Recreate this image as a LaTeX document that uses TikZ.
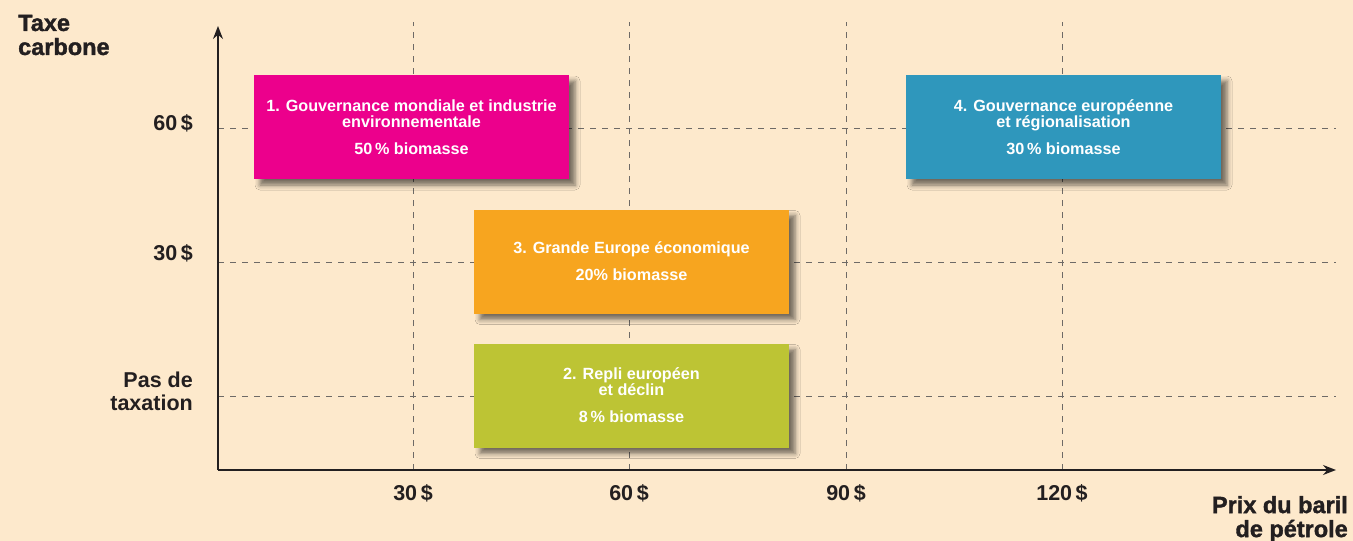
\documentclass[tikz,border=0pt]{standalone}
\usepackage{fontspec}
\setmainfont{Liberation Sans}
\newfontfamily\heavyfont[FakeBold=1.5]{Liberation Sans Bold}
\usetikzlibrary{arrows.meta,shadows.blur}

\definecolor{paper}{HTML}{FDE9CC}
\definecolor{inkdark}{HTML}{231F20}
\definecolor{gridgray}{HTML}{6E6A66}
\definecolor{scmagenta}{HTML}{EC008C}
\definecolor{scblue}{HTML}{2F97BC}
\definecolor{scorange}{HTML}{F7A51F}
\definecolor{scgreen}{HTML}{BDC434}

\tikzset{
  axis/.style={draw=inkdark, line width=1.4pt, -{Stealth[length=13pt,width=10pt]}},
  gridline/.style={draw=gridgray, line width=0.9pt, dash pattern=on 6pt off 6pt},
  scenario/.style={rectangle, minimum width=315pt, minimum height=104pt, inner sep=0pt,
    text=white, align=center, font=\bfseries\fontsize{16.2}{16}\selectfont,
    blur shadow={shadow xshift=6pt, shadow yshift=-6pt, shadow blur radius=5pt, shadow opacity=55}},
  ticklabel/.style={text=inkdark, font=\bfseries\fontsize{21.5}{23}\selectfont, inner sep=0pt},
  axistitle/.style={text=inkdark, font=\heavyfont\fontsize{23.5}{24}\selectfont, inner sep=0pt}
}

\begin{document}
\begin{tikzpicture}[x=1pt, y=-1pt]
  \fill[paper] (0,0) rectangle (1353,541);
  \useasboundingbox (0,0) rectangle (1353,541);

  % reference points of the axes
  \coordinate (o) at (218,470);
  \coordinate (ytip) at (218,26);
  \coordinate (xtip) at (1336,470);

  % vertical grid lines (oil price)
  \foreach \name/\x in {p30/413, p60/629, p90/846, p120/1062} {
    \coordinate (\name-b) at (\x,470);
    \coordinate (\name-t) at (\x,22);
    \draw[gridline] (\name-b) -- (\name-t);
  }
  % horizontal grid lines (carbon tax)
  \foreach \name/\y in {t60/128, t30/262, t0/396} {
    \coordinate (\name-l) at (218,\y);
    \coordinate (\name-r) at (1336,\y);
    \draw[gridline] (\name-l) -- (\name-r);
  }

  % axes
  \draw[axis] (o) -- (ytip);
  \draw[axis] (o) -- (xtip);

  % x tick labels
  \node[ticklabel] (lx30) at (413,493) {30\,\$};
  \node[ticklabel] (lx60) at (629,493) {60\,\$};
  \node[ticklabel] (lx90) at (846,493) {90\,\$};
  \node[ticklabel] (lx120) at (1062,493) {120\,\$};

  % y tick labels
  \node[ticklabel, anchor=east] (ly60) at (193,123) {60\,\$};
  \node[ticklabel, anchor=east] (ly30) at (193,253) {30\,\$};
  \node[ticklabel, anchor=east, align=right] (ly0) at (193,391) {Pas de\\taxation};

  % axis titles
  \node[axistitle, anchor=west, align=left] (ytitle) at (18,35) {Taxe\\carbone};
  \node[axistitle, anchor=east, align=right] (xtitle) at (1348,519) {Prix du baril\\de pétrole};

  % scenarios
  \node[scenario, fill=scmagenta] (s1) at (411.5,127)
    {1. Gouvernance mondiale et industrie\\environnementale\\[11pt]50\,\% biomasse};
  \node[scenario, fill=scblue] (s4) at (1063.5,127)
    {4. Gouvernance européenne\\et régionalisation\\[11pt]30\,\% biomasse};
  \node[scenario, fill=scorange] (s3) at (631.5,261.5)
    {3. Grande Europe économique\\[11pt]20\% biomasse};
  \node[scenario, fill=scgreen] (s2) at (631.5,395.5)
    {2. Repli européen\\et déclin\\[11pt]8\,\% biomasse};
\end{tikzpicture}
\end{document}
